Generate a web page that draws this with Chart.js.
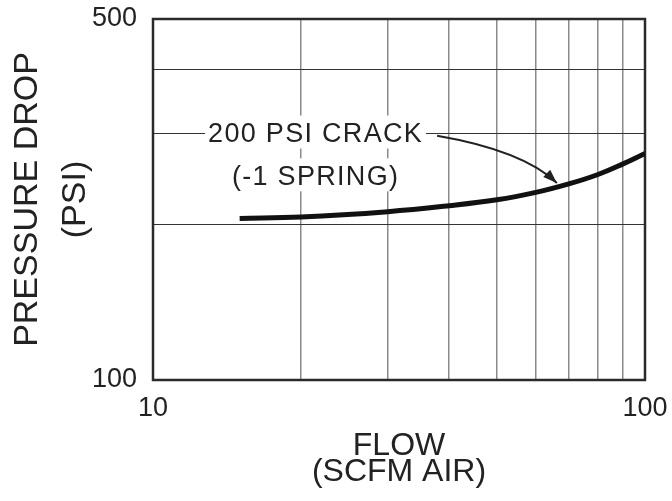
<!DOCTYPE html>
<html><head><meta charset="utf-8">
<script src="https://cdn.jsdelivr.net/npm/chart.js@4/dist/chart.umd.min.js"></script>
<style>html,body{margin:0;padding:0;background:#fff;overflow:hidden}canvas{display:block}</style>
</head><body>
<canvas id="c" width="672" height="501"></canvas>
<script>
const flowValues   = [15, 20, 30, 40, 50, 60, 70, 80, 90, 100];
const pressureDrop = [205.5, 206.8, 211.8, 217.5, 223.3, 230.8, 239.7, 249.7, 261.8, 274.5];
const xTickValues = [10, 20, 30, 40, 50, 60, 70, 80, 90, 100];
const xTickLabels = ['10', '', '', '', '', '', '', '', '', '100'];
const yTickValues = [100, 200, 300, 400, 500];
const yTickLabels = ['100', '', '', '', '500'];
const xTitle = ['FLOW', '(SCFM AIR)'];
const yTitle = ['PRESSURE DROP', '(PSI)'];
const noteLines = ['200 PSI CRACK', '(-1 SPRING)'];
const noteAnchors = [{x: 21.4, y: 300}, {x: 21.4, y: 248}];
const arrowPath = {from: {x: 37.8, y: 297}, control: {x: 56.5, y: 278}, to: {x: 66.2, y: 240.7}};

const FONT = "'Liberation Sans', Arial, Helvetica, sans-serif";

const frameAndNotes = {
  id: 'frameAndNotes',
  beforeDatasetsDraw(chart) {
    const {ctx, chartArea: a} = chart;
    ctx.save();
    ctx.strokeStyle = '#2a2a2a';
    ctx.lineWidth = 2.5;
    ctx.strokeRect(a.left, a.top, a.right - a.left, a.bottom - a.top);
    ctx.restore();
  },
  afterDatasetsDraw(chart) {
    const ctx = chart.ctx, xs = chart.scales.x, ys = chart.scales.y;
    ctx.save();
    ctx.font = '27px ' + FONT;
    try { ctx.letterSpacing = '1.3px'; } catch (e) {}
    ctx.textAlign = 'center';
    ctx.textBaseline = 'middle';
    noteLines.forEach((t, i) => {
      const px = xs.getPixelForValue(noteAnchors[i].x);
      const py = ys.getPixelForValue(noteAnchors[i].y);
      const w = ctx.measureText(t).width;
      ctx.fillStyle = '#fff';
      ctx.fillRect(px - w / 2 - 3, py - 18, w + 6, 33);
      ctx.fillStyle = '#222';
      ctx.fillText(t, px, py + 1);
    });
    const p0 = {x: xs.getPixelForValue(arrowPath.from.x), y: ys.getPixelForValue(arrowPath.from.y)};
    const c = {x: xs.getPixelForValue(arrowPath.control.x), y: ys.getPixelForValue(arrowPath.control.y)};
    const p2 = {x: xs.getPixelForValue(arrowPath.to.x), y: ys.getPixelForValue(arrowPath.to.y)};
    ctx.strokeStyle = '#222';
    ctx.fillStyle = '#222';
    ctx.lineWidth = 2;
    ctx.beginPath();
    ctx.moveTo(p0.x, p0.y);
    ctx.quadraticCurveTo(c.x, c.y, p2.x, p2.y);
    ctx.stroke();
    const ang = Math.atan2(p2.y - c.y, p2.x - c.x);
    const L = 14, W = 5, co = Math.cos(ang), si = Math.sin(ang);
    ctx.beginPath();
    ctx.moveTo(p2.x, p2.y);
    ctx.lineTo(p2.x - L * co + W * si, p2.y - L * si - W * co);
    ctx.lineTo(p2.x - L * co - W * si, p2.y - L * si + W * co);
    ctx.closePath();
    ctx.fill();
    ctx.restore();
  }
};

new Chart(document.getElementById('c'), {
  type: 'line',
  data: {
    datasets: [{
      data: flowValues.map((x, i) => ({x: x, y: pressureDrop[i]})),
      borderColor: '#111',
      borderWidth: 5,
      pointRadius: 0,
      tension: 0.4,
      fill: false,
      borderCapStyle: 'butt'
    }]
  },
  options: {
    responsive: false,
    animation: false,
    devicePixelRatio: 1,
    layout: {padding: {left: 0, right: 27, top: 19, bottom: 0}},
    plugins: {legend: {display: false}, tooltip: {enabled: false}},
    scales: {
      x: {
        type: 'logarithmic', min: 10, max: 100, position: 'bottom',
        afterBuildTicks: s => { s.ticks = xTickValues.map(v => ({value: v})); },
        afterFit: s => { s.height = 121; s.paddingLeft = 0; s.paddingRight = 0; },
        ticks: {
          autoSkip: false, maxRotation: 0, minRotation: 0, padding: 12, color: '#222',
          font: {family: FONT, size: 27},
          callback: v => { const i = xTickValues.indexOf(v); return i >= 0 ? xTickLabels[i] : ''; }
        },
        grid: {color: '#8a8a8a', lineWidth: 1.5, drawTicks: false},
        border: {display: false},
        title: {display: true, text: xTitle, color: '#222',
          font: {family: FONT, size: 32, lineHeight: '26px'}, padding: {top: 0, bottom: 16}}
      },
      y: {
        type: 'logarithmic', min: 100, max: 500, position: 'left',
        afterBuildTicks: s => { s.ticks = yTickValues.map(v => ({value: v})); },
        afterFit: s => { s.width = 153; s.paddingTop = 0; s.paddingBottom = 0; },
        ticks: {
          autoSkip: false, padding: 16, color: '#222',
          font: {family: FONT, size: 27},
          callback: v => { const i = yTickValues.indexOf(v); return i >= 0 ? yTickLabels[i] : ''; }
        },
        grid: {color: '#333', lineWidth: 1, drawTicks: false},
        border: {display: false},
        title: {display: true, text: yTitle, color: '#222',
          font: {family: FONT, size: 34, lineHeight: '48px'}, padding: {top: 4, bottom: 0}}
      }
    }
  },
  plugins: [frameAndNotes]
});
</script>
</body></html>
